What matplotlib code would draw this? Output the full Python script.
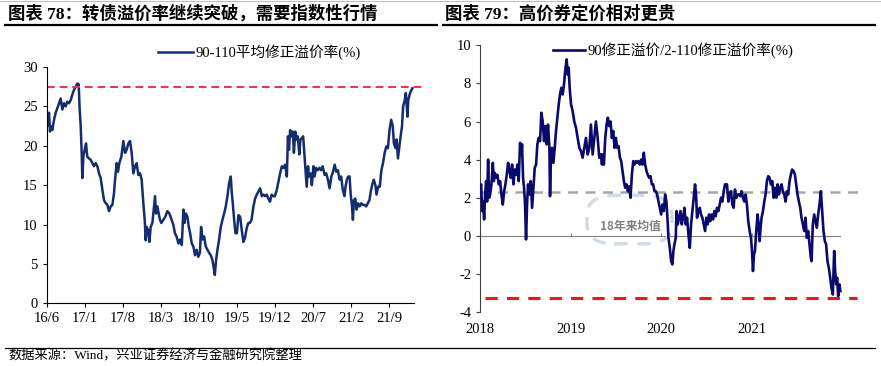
import matplotlib
matplotlib.use('Agg')
import matplotlib.pyplot as plt
from matplotlib.lines import Line2D
from matplotlib.patches import FancyBboxPatch

plt.rcParams['font.family'] = ['Liberation Serif', 'Noto Sans CJK SC', 'DejaVu Sans']
plt.rcParams['axes.unicode_minus'] = False

# left chart: months since 2016-06, premium rate (%)
left_m = [0, 0.12, 0.43, 0.61, 0.74, 1.04, 1.35, 1.66, 1.96, 2.27, 2.58, 2.88, 3.19, 3.5, 3.8,
          4.11, 4.42, 4.72, 5.03, 5.34, 5.64, 5.89, 6.07, 6.26, 6.44, 6.56, 6.75, 6.99, 7.24,
          7.48, 7.79, 8.1, 8.4, 8.71, 9.02, 9.33, 9.63, 9.94, 10.25, 10.55, 10.86, 11.17, 11.47,
          11.78, 12.09, 12.39, 12.58, 12.88, 13.13, 13.37, 13.74, 14.11, 14.42, 14.72, 15.03,
          15.34, 15.64, 15.95, 16.26, 16.56, 16.87, 17.18, 17.48, 17.79, 18.04, 18.22, 18.4,
          18.65, 18.9, 19.14, 19.45, 19.75, 19.94, 20.12, 20.37, 20.61, 20.86, 21.1, 21.47,
          21.84, 22.2, 22.58,
          23.0, 23.3, 23.6, 23.9, 24.25, 24.56, 24.86, 25.17, 25.36, 25.6, 25.9, 26.15, 26.4,
          26.7, 27.0, 27.3, 27.6, 27.9, 28.2, 28.42, 28.67, 28.97, 29.28, 29.59, 29.9, 30.2,
          30.5, 30.7, 30.94, 31.18, 31.43, 31.73, 32.04, 32.35, 32.66, 32.96, 33.27, 33.58,
          33.88, 34.07, 34.25, 34.5, 34.74, 35.0, 35.3, 35.6, 35.9, 36.2, 36.5, 36.8, 37.1,
          37.4, 37.7, 38.05, 38.36, 38.67, 38.97, 39.28, 39.6, 39.9, 40.2, 40.5, 40.8, 41.1,
          41.4, 41.7, 42.0, 42.35, 42.66, 42.96, 43.27, 43.58, 43.88, 44.2,
          44.4, 44.6, 44.8, 45.0, 45.3, 45.5, 45.75, 46.0, 46.2, 46.5, 46.7, 47.0, 47.2, 47.5,
          47.65, 47.85, 48.1, 48.3, 48.6, 48.8, 49.1, 49.3, 49.6, 49.9, 50.2, 50.5, 50.8,
          51.15, 51.45, 51.76, 52.07, 52.4, 52.7, 53.0, 53.3, 53.6, 53.9, 54.2, 54.5, 54.8,
          55.0, 55.25, 55.5, 55.75, 55.93, 56.2, 56.36, 56.55, 56.8, 57.04, 57.3, 57.6, 57.9,
          58.2, 58.5, 58.8, 59.1, 59.4, 59.7, 60.0, 60.2, 60.5, 60.7, 61.0, 61.3, 61.6, 61.9,
          62.2, 62.5, 62.8, 63.1, 63.4, 63.7, 63.9, 64.2, 64.4, 64.65, 64.9, 65.1, 65.4, 65.6,
          65.9, 66.1, 66.4, 66.55, 66.8, 67.0, 67.3]
left_v = [22.5, 22.5, 24.2, 21.8, 22.5, 22.0, 23.3, 24.2, 24.8, 25.4, 26.0, 24.6, 25.4, 25.0, 25.6,
          25.4, 25.8, 26.5, 27.1, 27.5, 27.9, 27.8, 24.6, 22.5, 19.1, 15.9, 18.6, 19.5, 20.3,
          18.6, 18.4, 18.2, 17.8, 17.4, 17.8, 17.4, 16.5, 15.9, 14.4, 13.1, 12.7, 12.5, 11.7,
          12.3, 12.5, 14.0, 15.7, 17.8, 16.7, 17.8, 18.6, 20.6, 19.1, 19.5, 20.3,
          20.6, 19.1, 16.5, 17.4, 17.8, 16.3, 16.5, 15.7, 12.7, 10.6, 8.0, 9.7,
          9.3, 7.8, 9.7, 10.2, 12.3, 13.6, 11.4, 12.3, 11.4, 10.6, 10.2, 10.6,
          11.0, 11.7, 11.4,
          10.6, 10.0, 8.9, 8.5, 7.6, 8.1, 7.4, 11.9, 10.2, 11.4, 11.0, 9.7, 8.9,
          7.6, 7.2, 6.1, 6.8, 5.9, 6.4, 9.7, 8.1, 8.5, 7.2, 6.8, 6.4, 6.1,
          5.5, 4.7, 3.6, 5.5, 6.8, 8.1, 9.7, 10.6, 11.4, 12.3, 13.6, 15.3,
          16.1, 14.0, 12.7, 10.6, 8.9, 8.9, 11.2, 11.0, 9.3, 7.8, 8.3, 9.5, 10.2,
          10.2, 10.6, 12.3, 13.3, 13.8, 14.2, 14.6, 13.6, 13.8, 13.6, 13.8, 13.3, 12.9,
          13.8, 13.6, 13.6, 14.4, 15.5, 16.5, 17.4, 17.2, 17.6, 16.1,
          21.2, 19.5, 22.0, 21.2, 21.8, 19.1, 21.8, 20.8, 21.2, 18.9, 20.8, 21.0, 21.2, 18.2,
          16.9, 14.8, 17.4, 16.1, 16.5, 15.0, 17.4, 16.1, 17.2, 16.9, 17.2, 16.9, 17.4,
          16.3, 16.5, 15.7, 14.6, 16.1, 16.7, 17.6, 16.7, 16.9, 15.7, 16.1, 14.4, 13.6,
          14.8, 15.7, 16.1, 16.1, 14.0, 12.3, 10.6, 13.1, 13.3, 11.9, 12.7, 12.3, 12.7,
          12.5, 12.5, 12.3, 12.7, 13.1, 14.4, 15.3, 15.7, 15.0, 13.8, 14.8, 14.8, 16.9, 17.8,
          19.1, 19.9, 19.7, 22.0, 23.3, 22.5, 20.3, 19.7, 20.8, 18.4, 19.9, 21.0, 22.5, 25.0,
          25.8, 26.7, 23.7, 25.8, 26.5, 26.9, 27.3]
left_ticks = [0, 7, 14, 21, 28, 35, 42, 49, 56, 63]
left_labels = ['16/6', '17/1', '17/8', '18/3', '18/10', '19/5', '19/12', '20/7', '21/2', '21/9']
left_high = 27.5

# right chart: decimal year, 90 premium/2 - 110 premium (%)
right_t = [2018.000, 2018.011, 2018.022, 2018.033, 2018.044, 2018.055, 2018.066, 2018.077,
           2018.088, 2018.099, 2018.110, 2018.125, 2018.140, 2018.151, 2018.162, 2018.176,
           2018.191, 2018.206, 2018.221, 2018.235, 2018.250, 2018.265, 2018.279, 2018.294,
           2018.309, 2018.324, 2018.338, 2018.353, 2018.368, 2018.382, 2018.397, 2018.412,
           2018.426, 2018.441, 2018.452, 2018.463, 2018.474, 2018.485, 2018.496, 2018.507,
           2018.518, 2018.529, 2018.544, 2018.559, 2018.574, 2018.588, 2018.603, 2018.618,
           2018.632, 2018.647, 2018.662, 2018.676, 2018.691, 2018.706, 2018.721, 2018.735,
           2018.750, 2018.765, 2018.772, 2018.783, 2018.794, 2018.809, 2018.824, 2018.838,
           2018.853, 2018.868, 2018.882, 2018.897, 2018.912, 2018.926, 2018.941, 2018.956,
           2018.967, 2018.978, 2018.989, 2019.004, 2019.022, 2019.040, 2019.059, 2019.077,
           2019.096, 2019.114, 2019.132, 2019.151, 2019.169, 2019.188, 2019.206, 2019.224,
           2019.243, 2019.261, 2019.279, 2019.298, 2019.316, 2019.335, 2019.346,
           2019.352, 2019.367, 2019.382, 2019.397, 2019.411, 2019.426, 2019.441, 2019.455,
           2019.470, 2019.485, 2019.499, 2019.514, 2019.529, 2019.544, 2019.558, 2019.573,
           2019.588, 2019.602, 2019.617, 2019.632, 2019.647, 2019.661, 2019.676, 2019.691,
           2019.705, 2019.720, 2019.735, 2019.749, 2019.764, 2019.779, 2019.794, 2019.808,
           2019.823, 2019.838, 2019.852, 2019.867, 2019.882, 2019.897, 2019.911, 2019.926,
           2019.941, 2019.955, 2019.970, 2019.985, 2020.000, 2020.014, 2020.029, 2020.044,
           2020.058, 2020.073, 2020.080, 2020.095, 2020.110, 2020.124, 2020.135, 2020.146,
           2020.161, 2020.169, 2020.183, 2020.198, 2020.213, 2020.227, 2020.242, 2020.257,
           2020.271, 2020.286, 2020.301, 2020.316, 2020.330, 2020.345, 2020.360, 2020.374,
           2020.385, 2020.396, 2020.411, 2020.426, 2020.440, 2020.455, 2020.470, 2020.485,
           2020.499, 2020.514, 2020.529, 2020.543, 2020.558, 2020.573, 2020.588, 2020.602,
           2020.617, 2020.632, 2020.646, 2020.661, 2020.676, 2020.691, 2020.705,
           2020.727, 2020.742, 2020.756, 2020.771, 2020.786, 2020.800, 2020.815, 2020.830,
           2020.844, 2020.859, 2020.874, 2020.889, 2020.903, 2020.918, 2020.933, 2020.947,
           2020.962, 2020.977, 2020.992, 2021.003, 2021.014, 2021.025, 2021.036, 2021.050,
           2021.065, 2021.076, 2021.087, 2021.098, 2021.109, 2021.124, 2021.139, 2021.153,
           2021.168, 2021.183, 2021.197, 2021.212, 2021.227, 2021.242, 2021.256, 2021.271,
           2021.286, 2021.300, 2021.315, 2021.330, 2021.344, 2021.359, 2021.374, 2021.389,
           2021.403, 2021.418, 2021.433, 2021.447, 2021.462, 2021.477, 2021.491, 2021.506,
           2021.521, 2021.536, 2021.550, 2021.565, 2021.580, 2021.594, 2021.609, 2021.624,
           2021.639, 2021.653, 2021.661, 2021.675, 2021.690, 2021.705, 2021.719, 2021.734,
           2021.749, 2021.764, 2021.778, 2021.793, 2021.808, 2021.822, 2021.837, 2021.852,
           2021.867, 2021.881, 2021.896, 2021.911, 2021.922, 2021.933, 2021.944, 2021.955,
           2021.969, 2021.980]
right_v = [2.52, 2.7, 1.3, 1.8, 0.86, 2.17, 2.87, 1.8, 4.0, 2.0, 2.17, 2.7, 3.83, 2.87, 3.3,
           3.05, 3.2, 2.7, 2.87, 2.17, 1.64, 2.34, 2.7, 3.2, 3.83, 3.4, 3.05, 3.74, 2.7, 3.48,
           3.2, 3.74, 2.87, 4.88, 4.27, 4.8, 3.05, 2.52, 1.64, -0.19, 1.64, 2.7, 2.17, 2.87,
           1.47, 2.52, 3.57, 3.74, 4.8, 5.14, 4.97, 6.46, 6.0, 4.97, 5.76, 4.8, 5.84, 4.62,
           2.08, 4.27, 4.62, 3.83, 4.62, 5.5, 6.2, 6.9, 7.42, 7.77, 7.42, 7.94, 8.73, 9.26,
           8.47, 8.82, 7.77, 6.9, 6.54, 6.0, 5.67, 5.14, 4.62, 4.44, 4.1, 4.62, 5.14, 4.27,
           4.62, 5.84, 4.27, 5.14, 6.0, 5.14, 4.1, 4.27, 3.74,
           4.27, 3.74, 5.14, 5.84, 6.2, 5.76, 6.0, 5.14, 5.5, 4.62, 5.14, 4.62, 4.71, 4.1,
           3.92, 3.4, 2.87, 2.52, 2.7, 2.34, 2.6, 2.0, 3.2, 3.92, 3.74, 3.92, 3.83, 3.92,
           3.74, 4.0, 3.74, 4.36, 3.74, 3.4, 3.2, 3.05, 3.13, 2.7, 2.7, 2.34, 2.34, 2.17,
           1.8, 1.47, 1.12, 1.64, 1.3, 2.17, 1.8, 0.6,
           -0.1, -0.63, -1.33, -1.5, -0.8, -0.45,
           -0.1, 1.3, 0.6, 0.95, 1.3, 0.6, 0.95, 1.47, 0.6, 0.95, 0.07, -0.63, 0.6, 1.3, 2.0,
           2.7, 2.17,
           0.95, 1.3, 1.47, 1.12, 0.95, 0.6, 0.25, 0.95, 0.6, 1.12, 0.77, 1.12,
           0.86, 1.3, 1.03, 1.47, 1.3, 1.64, 2.0, 1.8, 2.34, 2.7,
           2.7, 1.8, 2.17, 2.34, 1.64, 1.47, 2.43, 2.0, 2.17, 2.17, 2.08, 2.34, 2.0, 1.8,
           2.17, 1.64, 0.77, 0.25, -0.1,
           -0.8, -1.85, -0.98, -0.8, 0.25, 1.12, 0.6, -0.28, 0.42,
           0.95, 1.3, 1.8, 2.17, 2.87, 3.13, 3.05, 2.7, 2.87, 2.0,
           2.52, 2.0, 2.7, 2.17, 2.52, 2.7, 2.34, 2.17, 1.8, 2.34,
           2.17, 2.87, 3.22, 3.48, 3.4, 3.22, 2.7, 2.17, 1.8, 1.47,
           0.95, 0.6, 0.25, 0.95, -0.1, 0.25, -0.45, -1.15, -1.33,
           0.6, 1.12, 0.77, 0.42, 1.12, 1.64, 2.34, 1.3, 0.25, -0.28, -0.45, -1.33, -1.68, -2.2,
           -2.73, -3.08, -0.8, -1.85, -2.55, -2.2, -3.17, -2.55, -2.9]
right_ticks = [2018, 2019, 2020, 2021]
right_mean = 2.28
right_low = -3.25

fig = plt.figure(figsize=(8.81, 3.66), dpi=100)

# headers and rules
title_kw = dict(fontsize=12.5, fontweight='bold', va='center', ha='left',
                family=['Liberation Serif', 'Noto Sans CJK SC'])
fig.text(8 / 881, 1 - 14 / 366, '图表 78：转债溢价率继续突破，需要指数性行情', **title_kw)
fig.text(445 / 881, 1 - 14 / 366, '图表 79：高价券定价相对更贵', **title_kw)
for x0, x1 in [(5, 437), (443, 875)]:
    fig.add_artist(Line2D([x0 / 881, x1 / 881], [1 - 24.5 / 366] * 2, color='black', lw=1.6))
fig.add_artist(Line2D([0, 1], [1 - 1 / 366] * 2, color='#b0b0b0', lw=0.6))
fig.add_artist(Line2D([5 / 881, 875 / 881], [1 - 348 / 366] * 2, color='black', lw=0.9))
fig.text(8 / 881, 1 - 356 / 366, '数据来源：Wind，兴业证券经济与金融研究院整理', fontsize=9.5,
         va='center', ha='left', family=['Liberation Serif', 'Noto Sans CJK SC'])

# left chart
ax1 = fig.add_axes([0.053, 0.1713, 0.4169, 0.6456])
ax1.plot(left_m, left_v, color='#142d6e', lw=1.8, label='90-110平均修正溢价率(%)')
ax1.plot([0, 69.3], [left_high, left_high], color='#f0323c', lw=1.4, ls=(0, (4, 2.5)), clip_on=False)
ax1.set_xlim(0, 67.6)
ax1.set_ylim(0, 30)
ax1.set_yticks(range(0, 31, 5))
ax1.set_xticks(left_ticks)
ax1.set_xticklabels(left_labels)
for s in ['top', 'right']:
    ax1.spines[s].set_visible(False)
for s in ['left', 'bottom']:
    ax1.spines[s].set_linewidth(0.8)
ax1.tick_params(labelsize=10.5, length=3, width=0.8, direction='out')
ax1.legend(loc='center', bbox_to_anchor=(0.579, 1.063), frameon=False, fontsize=10.5,
           handlelength=2.4, handletextpad=0.2, borderaxespad=0)

# right chart
ax2 = fig.add_axes([0.545, 0.1475, 0.4336, 0.7287])
ax2.plot(right_t, right_v, color='#0a0a6e', lw=1.9, label='90修正溢价/2-110修正溢价率(%)', zorder=4)
ax2.plot([2018, 2022.22], [right_mean, right_mean], color='#a6a6a6', lw=1.8, ls=(0, (4, 3)),
         zorder=2, clip_on=False)
ax2.plot([2018.05, 2022.16], [right_low, right_low], color='#ff1010', lw=2.2, ls=(0, (4, 3)),
         zorder=5, clip_on=False)
ax2.set_xlim(2018, 2022.22)
ax2.set_ylim(-4, 10)
ax2.set_yticks(range(-4, 11, 2))
ax2.set_xticks(right_ticks)
ax2.set_xticklabels([str(t) for t in right_ticks])
for s in ['top', 'right', 'bottom']:
    ax2.spines[s].set_visible(False)
ax2.spines['left'].set_linewidth(0.8)
ax2.spines['left'].set_color('#404040')
ax2.tick_params(axis='y', labelsize=10.5, length=3, width=0.8, direction='out', color='#404040')
ax2.tick_params(axis='x', labelsize=10.5, length=0, pad=8)

zero = ax2.secondary_xaxis(4 / 14)
zero.spines['bottom'].set_bounds(2018, 2021.97)
zero.spines['bottom'].set_color('#808080')
zero.spines['bottom'].set_linewidth(0.8)
zero.set_xticks(right_ticks)
zero.tick_params(direction='in', length=2.5, width=0.8, color='#808080', labelbottom=False)

box = FancyBboxPatch((2019.2, -0.35), 0.9, 2.4, boxstyle='round,pad=0.02,rounding_size=0.3',
                     fill=False, ec='#cfdbe7', lw=2.4, ls=(0, (4, 3)), zorder=1,
                     mutation_aspect=3.5)
ax2.add_patch(box)
ax2.text(2019.665, 0.51, '18年来均值', fontsize=8.5, color='#808080', fontweight='bold',
         ha='center', va='center', family=['Noto Sans CJK SC'], zorder=3)

ax2.legend(loc='center', bbox_to_anchor=(0.505, 0.98), frameon=False, fontsize=10.5,
           handlelength=2.2, handletextpad=0.2, borderaxespad=0)

fig.savefig('out.png', dpi=100)
